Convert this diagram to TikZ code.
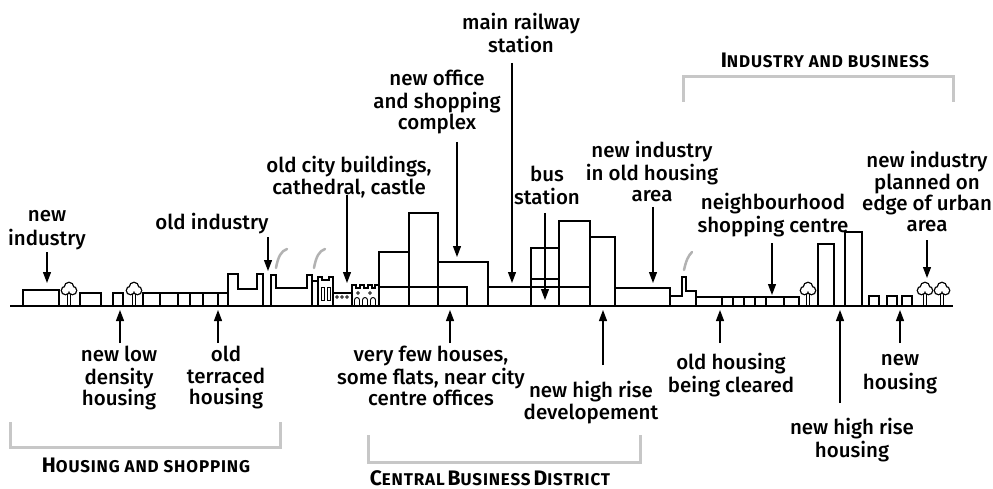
\documentclass[tikz,border=0pt]{standalone}
\usepackage{fontspec}
\setmainfont{Fira Sans}[UprightFont={* Medium}, BoldFont={* Bold}]
\usetikzlibrary{arrows.meta}
\newcommand\drawtree[1]{%
  \draw[bld] ({#1-1.5},-306) -- ({#1-1.5},-294) ({#1+1.5},-306) -- ({#1+1.5},-294);
  \draw[line width=2.6pt] ({#1-3.5},-290.5) circle (3.5) ({#1+3.5},-290.5) circle (3.5) (#1,-287) circle (4);
  \fill[white] ({#1-3.5},-290.5) circle (3.5) ({#1+3.5},-290.5) circle (3.5) (#1,-287) circle (4);
}
\newcommand\hsc[2]{{\fontsize{21}{21}\selectfont #1}{\fontsize{17}{17}\selectfont #2}}
\begin{document}
\begin{tikzpicture}[x=1pt,y=1pt,
  bld/.style={line width=1.3pt, line join=miter},
  arr/.style={line width=1.2pt, -{Triangle[length=11pt,width=8pt]}},
  lbl/.style={font=\fontsize{20.5}{21}\selectfont, align=center, inner sep=0pt, anchor=north},
  brk/.style={draw=black!22, line width=3pt},
  smoke/.style={draw=black!30, line width=2.5pt, line cap=round},
  head/.style={inner sep=0pt, font=\bfseries\addfontfeatures{LetterSpace=5}}
]
\fill[white] (0,0) rectangle (993,-489);
\useasboundingbox (0,0) rectangle (993,-489);

% ---------- skyline ----------
% housing and old industry, left
\draw[bld] (23,-306) |- (59,-290) -- (59,-306);
\drawtree{69}
\draw[bld] (80,-306) |- (101,-293) -- (101,-306);
\draw[bld] (113,-306) |- (123,-293) -- (123,-306);
\drawtree{134}
\draw[bld] (143,-306) |- (228,-293);
\foreach \x in {143,160,178,190,203,218} \draw[bld] (\x,-306) -- (\x,-293);
\draw[bld] (228,-306) -- (228,-274) -- (238,-274) -- (238,-289) -- (257,-289) -- (257,-274) -- (263,-274) -- (263,-306);
\draw[bld] (271,-306) -- (271,-275) -- (276,-275) -- (276,-288) -- (307,-288) -- (307,-275) -- (312,-275) -- (312,-306);
\draw[smoke] (276,-268) .. controls (278,-257) and (281,-251) .. (287,-249);
\draw[smoke] (314,-268) .. controls (316,-257) and (319,-251) .. (325,-249);

% cathedral and castle
\draw[bld] (312,-306) |- (318,-281) -- (318,-306);
\draw[bld] (318,-306) -- (318,-277) -- (322,-277) -- (322,-280) -- (329,-280) -- (329,-277) -- (333,-277) -- (333,-306);
\draw[line width=0.9pt] (321,-300) rectangle (324,-287) (327,-300) rectangle (330,-287);
\draw[bld] (333,-293) -- (352,-293);
\foreach \x in {337,342,347} \draw[line width=0.8pt] (\x,-297) circle (1.4);
\draw[bld] (352,-306) -- (352,-285) -- (356,-285) -- (356,-288) -- (360,-288) -- (360,-285) -- (364,-285)
  -- (364,-288) -- (368,-288) -- (368,-285) -- (372,-285) -- (372,-288) -- (375,-288) -- (375,-285) -- (379,-285) -- (379,-306);
\foreach \x in {358,370} \draw[line width=0.8pt] (\x,-293) circle (1.4);
\foreach \x in {357,365,373} \draw[line width=0.9pt] ({\x-2.5},-306) -- ({\x-2.5},-300) arc[start angle=180,end angle=0,radius=2.5] -- ({\x+2.5},-306);

% central business district
\draw[bld] (379,-306) rectangle (409,-252);
\draw[bld] (409,-306) rectangle (438,-213);
\draw[bld] (438,-306) rectangle (488,-262);
\draw[bld] (379,-287) -| (467,-306);
\draw[bld] (488,-287) -- (531,-287);
\draw[bld] (531,-306) rectangle (559,-248);
\draw[bld] (531,-279) -- (559,-279);
\draw[bld] (559,-306) rectangle (590,-221);
\draw[bld] (590,-306) rectangle (615,-237);
\draw[bld] (531,-287) -- (590,-287);
\draw[bld] (615,-306) rectangle (670,-288);

% industry and business, right
\draw[bld] (670,-306) -- (670,-296) -- (682,-296) -- (682,-277) -- (686,-277) -- (686,-291) -- (696,-291) -- (696,-306);
\draw[smoke] (684,-270) .. controls (686,-261) and (688,-256) .. (692,-252);
\draw[bld] (696,-306) |- (799,-297) -- (799,-306);
\foreach \x in {722,733,744,755,766,784} \draw[bld] (\x,-306) -- (\x,-297);
\drawtree{808}
\draw[bld] (818,-306) rectangle (834,-244);
\draw[bld] (845,-306) rectangle (862,-232);
\foreach \x in {869,887,902} \draw[bld] (\x,-306) |- ({\x+10},-296) -- ({\x+10},-306);
\drawtree{925}
\drawtree{942}

% ground
\draw[line width=2pt] (10,-306) -- (953,-306);

% ---------- labels above ----------
\node[lbl] (newind) at (47,-206.5) {\strut new\\industry};
\node[lbl] (oldind) at (212,-212.5) {\strut old industry};
\node[lbl] (oldcity) at (349,-155.5) {\strut old city buildings,\\cathedral, castle};
\node[lbl] (office) at (437,-69.5) {\strut new office\\and shopping\\complex};
\node[lbl] (rail) at (521,-12.5) {\strut main railway\\station};
\node[lbl] (bus) at (547,-165.5) {\strut bus\\station};
\node[lbl] (indold) at (652,-140.5) {\strut new industry\\in old housing\\area};
\node[lbl] (shop) at (773,-192.5) {\strut neighbourhood\\shopping centre};
\node[lbl] (indedge) at (927,-150.5) {\strut new industry\\planned on\\edge of urban\\area};

\coordinate (t-newind) at (47,-283);
\coordinate (t-oldind) at (268,-271);
\coordinate (t-oldcity) at (347,-283);
\coordinate (t-office) at (457,-257);
\coordinate (t-rail) at (512,-283);
\coordinate (t-bus) at (545,-300);
\coordinate (t-indold) at (653,-283);
\coordinate (t-shop) at (772,-295);
\coordinate (t-indedge) at (927,-278);

\draw[arr] (47,-252) -- (t-newind);
\draw[arr] (268,-237) -- (t-oldind);
\draw[arr] (347,-195) -- (t-oldcity);
\draw[arr] (457,-142) -- (t-office);
\draw[arr] (512,-63) -- (t-rail);
\draw[arr] (545,-213) -- (t-bus);
\draw[arr] (653,-207) -- (t-indold);
\draw[arr] (772,-243) -- (t-shop);
\draw[arr] (927,-240) -- (t-indedge);

% ---------- labels below ----------
\node[lbl] (lowdens) at (119,-345.5) {\strut new low\\density\\housing};
\node[lbl] (terr) at (226,-345.5) {\strut old\\terraced\\housing};
\node[lbl] (flats) at (431,-345.5) {\strut very few houses,\\some flats, near city\\centre offices};
\node[lbl] (highdev) at (591,-380.5) {\strut new high rise\\developement};
\node[lbl] (cleared) at (731,-352.5) {\strut old housing\\being cleared};
\node[lbl] (highhouse) at (852,-417.5) {\strut new high rise\\housing};
\node[lbl] (newhouse) at (900,-350.5) {\strut new\\housing};

\draw[arr] (120,-343) -- (120,-310);
\draw[arr] (218,-343) -- (218,-310);
\draw[arr] (450,-343) -- (450,-310);
\draw[arr] (603,-365) -- (603,-310);
\draw[arr] (720,-343) -- (720,-310);
\draw[arr] (840,-403) -- (840,-310);
\draw[arr] (900,-343) -- (900,-310);

% ---------- district brackets ----------
\draw[brk] (10,-422) -- (10,-447) -- (280,-447) -- (280,-422);
\draw[brk] (368,-435) -- (368,-462) -- (640,-462) -- (640,-435);
\draw[brk] (683,-102) -- (683,-77) -- (953,-77) -- (953,-102);
\node[head] (hs) at (146,-465) {\hsc{H}{OUSING AND SHOPPING}};
\node[head] (cbd) at (490,-478) {\hsc{C}{ENTRAL} \hsc{B}{USINESS} \hsc{D}{ISTRICT}};
\node[head] (ib) at (825,-60) {\hsc{I}{NDUSTRY AND BUSINESS}};
\end{tikzpicture}
\end{document}
